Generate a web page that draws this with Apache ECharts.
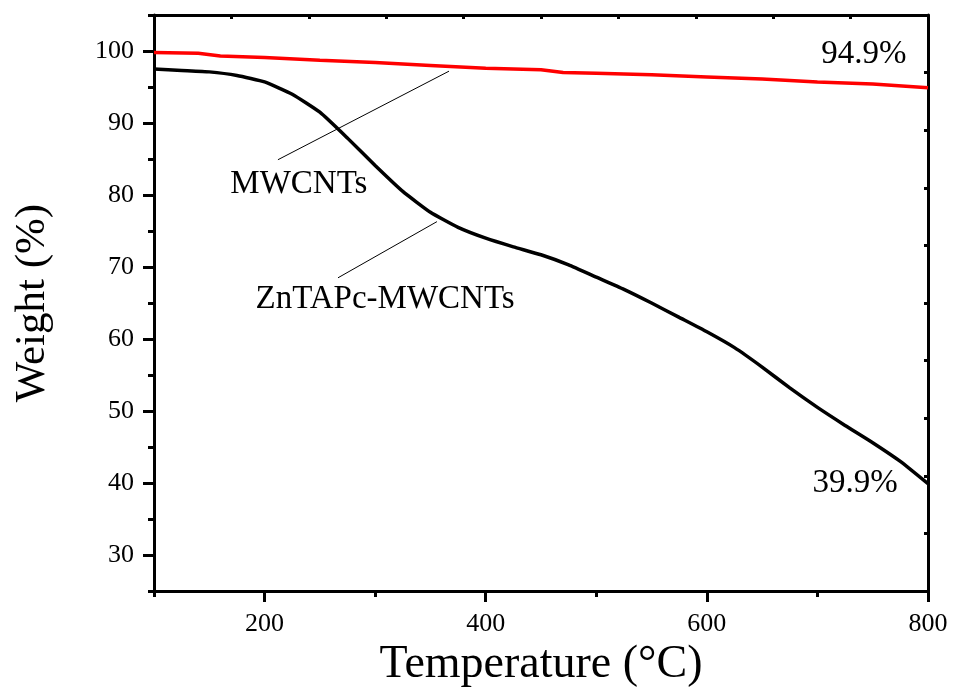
<!DOCTYPE html>
<html>
<head>
<meta charset="utf-8">
<script src="https://cdn.jsdelivr.net/npm/echarts@6/dist/echarts.min.js"></script>
<style>
  html, body { margin: 0; padding: 0; background: #fff; }
  #chart { width: 953px; height: 694px; }
</style>
</head>
<body>
<div id="chart"></div>
<script>
// ZnTAPc-MWCNTs (black curve)
var tempZn = [100, 125, 150, 175, 200, 225, 250, 275, 300, 325, 350, 375, 400, 425, 450, 475, 500, 525, 550, 575, 600, 625, 650, 675, 700, 725, 750, 775, 800];
var weightZn = [97.5, 97.3, 97.1, 96.6, 95.7, 94.0, 91.5, 87.9, 84.1, 80.5, 77.6, 75.5, 74.0, 72.8, 71.7, 70.3, 68.6, 66.9, 65.0, 63.0, 61.0, 58.8, 56.1, 53.2, 50.5, 48.0, 45.6, 43.0, 39.9];
// MWCNTs (red curve)
var tempMW = [100, 140, 160, 200, 250, 300, 350, 400, 450, 470, 500, 550, 600, 650, 700, 750, 800];
var weightMW = [99.8, 99.7, 99.3, 99.1, 98.7, 98.4, 98.0, 97.6, 97.4, 97.0, 96.9, 96.7, 96.4, 96.1, 95.7, 95.4, 94.9];

var xMajor = [200, 400, 600, 800];
var xMinor = [100, 300, 500, 700];
var yMajor = [30, 40, 50, 60, 70, 80, 90, 100];
var yMinor = [25, 35, 45, 55, 65, 75, 85, 95, 105];
var topTicks = [100, 170, 240, 310, 380, 450, 520, 590, 660, 730, 800];
var rightTicks = [25, 33, 41, 49, 57, 65, 73, 81, 89, 97, 105];

var font = "Liberation Serif";

function pairs(xs, ys) {
  return xs.map(function (x, i) { return [x, ys[i]]; });
}

var chart = echarts.init(document.getElementById("chart"));

function tickAxis(pos, ticks, len, inside, extra) {
  var vertical = pos === "left" || pos === "right";
  var a = {
    type: "value",
    position: pos,
    min: vertical ? 25 : 100,
    max: vertical ? 105 : 800,
    axisLine: { show: false },
    axisTick: { show: true, inside: inside, length: len, customValues: ticks, lineStyle: { color: "#000", width: 3 } },
    axisLabel: { show: false },
    splitLine: { show: false }
  };
  return Object.assign(a, extra || {});
}

var annotLabel = { color: "#000", fontFamily: font, fontSize: 33 };

var option = {
  backgroundColor: "#fff",
  animation: false,
  grid: { left: 154, right: 25, top: 15, bottom: 103 },
  xAxis: [
    {
      type: "value",
      position: "bottom",
      min: 100,
      max: 800,
      name: "Temperature (°C)",
      nameLocation: "middle",
      nameGap: 50,
      nameTextStyle: { color: "#000", fontFamily: font, fontSize: 46 },
      axisLine: { show: true, lineStyle: { color: "#000", width: 3 } },
      axisTick: { show: true, length: 11, customValues: xMajor, lineStyle: { color: "#000", width: 3 } },
      axisLabel: { show: true, customValues: xMajor, margin: 20, color: "#000", fontFamily: font, fontSize: 26 },
      splitLine: { show: false }
    },
    tickAxis("bottom", xMinor, 6, false),
    tickAxis("top", topTicks, 4, true, {
      axisLine: { show: true, lineStyle: { color: "#000", width: 3 } }
    })
  ],
  yAxis: [
    {
      type: "value",
      position: "left",
      min: 25,
      max: 105,
      name: "Weight (%)",
      nameLocation: "middle",
      nameGap: 100,
      nameTextStyle: { color: "#000", fontFamily: font, fontSize: 43 },
      axisLine: { show: true, lineStyle: { color: "#000", width: 3 } },
      axisTick: { show: true, length: 11, customValues: yMajor, lineStyle: { color: "#000", width: 3 } },
      axisLabel: { show: true, customValues: yMajor, margin: 20, color: "#000", fontFamily: font, fontSize: 26 },
      splitLine: { show: false }
    },
    tickAxis("left", yMinor, 6, false),
    tickAxis("right", rightTicks, 4, true, {
      axisLine: { show: true, lineStyle: { color: "#000", width: 3 } }
    })
  ],
  series: [
    {
      name: "ZnTAPc-MWCNTs",
      type: "line",
      data: pairs(tempZn, weightZn),
      smooth: 0.15,
      showSymbol: false,
      lineStyle: { color: "#000", width: 3.5 },
      markLine: {
        silent: true,
        symbol: ["none", "arrow"],
        symbolSize: [0, 12],
        label: { show: false },
        lineStyle: { color: "#000", width: 1, type: "solid" },
        data: [[{ coord: [266.4, 68.5] }, { coord: [355.9, 76.3] }]]
      },
      markPoint: {
        symbol: "circle",
        symbolSize: 1,
        itemStyle: { color: "rgba(0,0,0,0)" },
        label: Object.assign({ show: true, position: "inside" }, annotLabel),
        data: [
          { coord: [309, 65.5], value: "ZnTAPc-MWCNTs", label: { formatter: "ZnTAPc-MWCNTs" } },
          { coord: [734, 40.0], value: "39.9%", label: { formatter: "39.9%" } }
        ]
      }
    },
    {
      name: "MWCNTs",
      type: "line",
      data: pairs(tempMW, weightMW),
      showSymbol: false,
      lineStyle: { color: "#ff0000", width: 3.5 },
      markLine: {
        silent: true,
        symbol: ["none", "arrow"],
        symbolSize: [0, 12],
        label: { show: false },
        lineStyle: { color: "#000", width: 1, type: "solid" },
        data: [[{ coord: [212.1, 84.9] }, { coord: [366.8, 97.2] }]]
      },
      markPoint: {
        symbol: "circle",
        symbolSize: 1,
        itemStyle: { color: "rgba(0,0,0,0)" },
        label: Object.assign({ show: true, position: "inside" }, annotLabel),
        data: [
          { coord: [231, 81.5], value: "MWCNTs", label: { formatter: "MWCNTs" } },
          { coord: [742, 99.5], value: "94.9%", label: { formatter: "94.9%" } }
        ]
      }
    }
  ]
};

chart.setOption(option);
</script>
</body>
</html>
